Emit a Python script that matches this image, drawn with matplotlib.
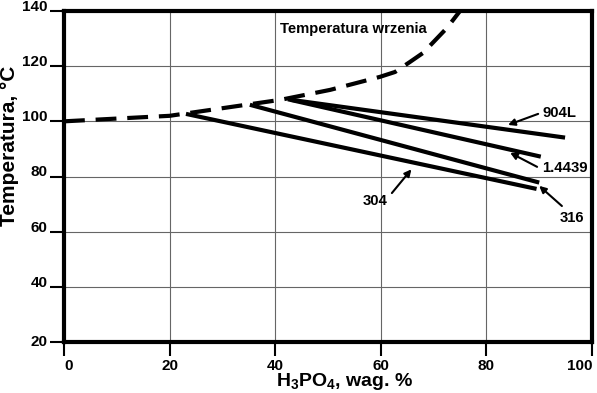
import matplotlib
matplotlib.use("Agg")
import matplotlib.pyplot as plt

plt.rcParams['font.family'] = ['Liberation Sans', 'DejaVu Sans']
plt.rcParams['font.weight'] = 'bold'
plt.rcParams['mathtext.fontset'] = 'custom'
plt.rcParams['mathtext.bf'] = 'Liberation Sans:bold'
plt.rcParams['mathtext.rm'] = 'Liberation Sans:bold'

# boiling point curve (dashed)
boil_x = [0, 20, 41, 50.4, 59.8, 62.7, 65.5, 68, 70.6, 72.5, 75]
boil_y = [100, 102, 107.8, 111.4, 116.1, 117.9, 121.5, 124.8, 130, 133.8, 140]

# steel grades: start / end points
s304_x = [23.1, 89.5]
s304_y = [102.7, 75.5]
s316_x = [35.2, 90.0]
s316_y = [106.0, 77.8]
s14439_x = [42.4, 90.3]
s14439_y = [108.0, 87.2]
s904_x = [43.0, 94.9]
s904_y = [107.8, 94.1]

xticks = [0, 20, 40, 60, 80, 100]
yticks = [20, 40, 60, 80, 100, 120, 140]

fig = plt.figure(figsize=(5.97, 3.93), dpi=100)
ax = fig.add_axes([64/597, 1 - 342/393, 528/597, 331/393])

ax.plot(boil_x, boil_y, color='black', lw=3, dashes=(5, 2.6), solid_capstyle='butt')
for xs, ys in [(s304_x, s304_y), (s316_x, s316_y), (s14439_x, s14439_y), (s904_x, s904_y)]:
    ax.plot(xs, ys, color='black', lw=3, solid_capstyle='butt')

ax.set_xlim(0, 100)
ax.set_ylim(20, 140)
ax.set_xticks(xticks)
ax.set_yticks(yticks)
ax.grid(True, color='#666666', lw=0.8)
ax.set_axisbelow(True)
for s in ax.spines.values():
    s.set_linewidth(3)
ax.tick_params(axis='x', direction='out', length=10, width=1.5, labelsize=11, pad=2)
ax.tick_params(axis='y', direction='out', length=10, width=1.5, labelsize=11, pad=2)
for lab in ax.get_yticklabels():
    lab.set_fontweight('bold')
    lab.set_verticalalignment('baseline' if lab.get_text() != '20' else 'center')
xlabs = ax.get_xticklabels()
for lab in xlabs:
    lab.set_fontweight('bold')
xlabs[0].set_horizontalalignment('left')
xlabs[-1].set_horizontalalignment('right')

ax.text(41, 133.3, 'Temperatura wrzenia', fontsize=10.7, fontweight='bold', va='center', ha='left')

arrow = dict(arrowstyle='-|>', color='black', lw=1.5, mutation_scale=10, shrinkA=0, shrinkB=0)
ax.annotate('', xy=(84.1, 98.7), xytext=(89.8, 102.7), arrowprops=arrow)
ax.annotate('', xy=(84.5, 88.6), xytext=(89.6, 83.5), arrowprops=arrow)
ax.annotate('', xy=(90.0, 76.6), xytext=(94.3, 69.3), arrowprops=arrow)
ax.annotate('', xy=(65.8, 82.6), xytext=(62.1, 74.0), arrowprops=arrow)
ax.text(90.7, 103.0, '904L', fontsize=10.7, fontweight='bold', ha='left', va='center')
ax.text(90.5, 83.1, '1.4439', fontsize=10.7, fontweight='bold', ha='left', va='center')
ax.text(93.9, 65.1, '316', fontsize=10.7, fontweight='bold', ha='left', va='center')
ax.text(56.6, 71.1, '304', fontsize=10.7, fontweight='bold', ha='left', va='center')

fig.text(10/597, 1 - 146/393, 'Temperatura, °C', rotation=90, fontsize=15, fontweight='bold',
         ha='center', va='center')
fig.text(345/597, 1 - 382/393, r'H$_\mathbf{3}$PO$_\mathbf{4}$, wag. %', fontsize=14, fontweight='bold',
         ha='center', va='center')

fig.savefig('out.png', dpi=100)
